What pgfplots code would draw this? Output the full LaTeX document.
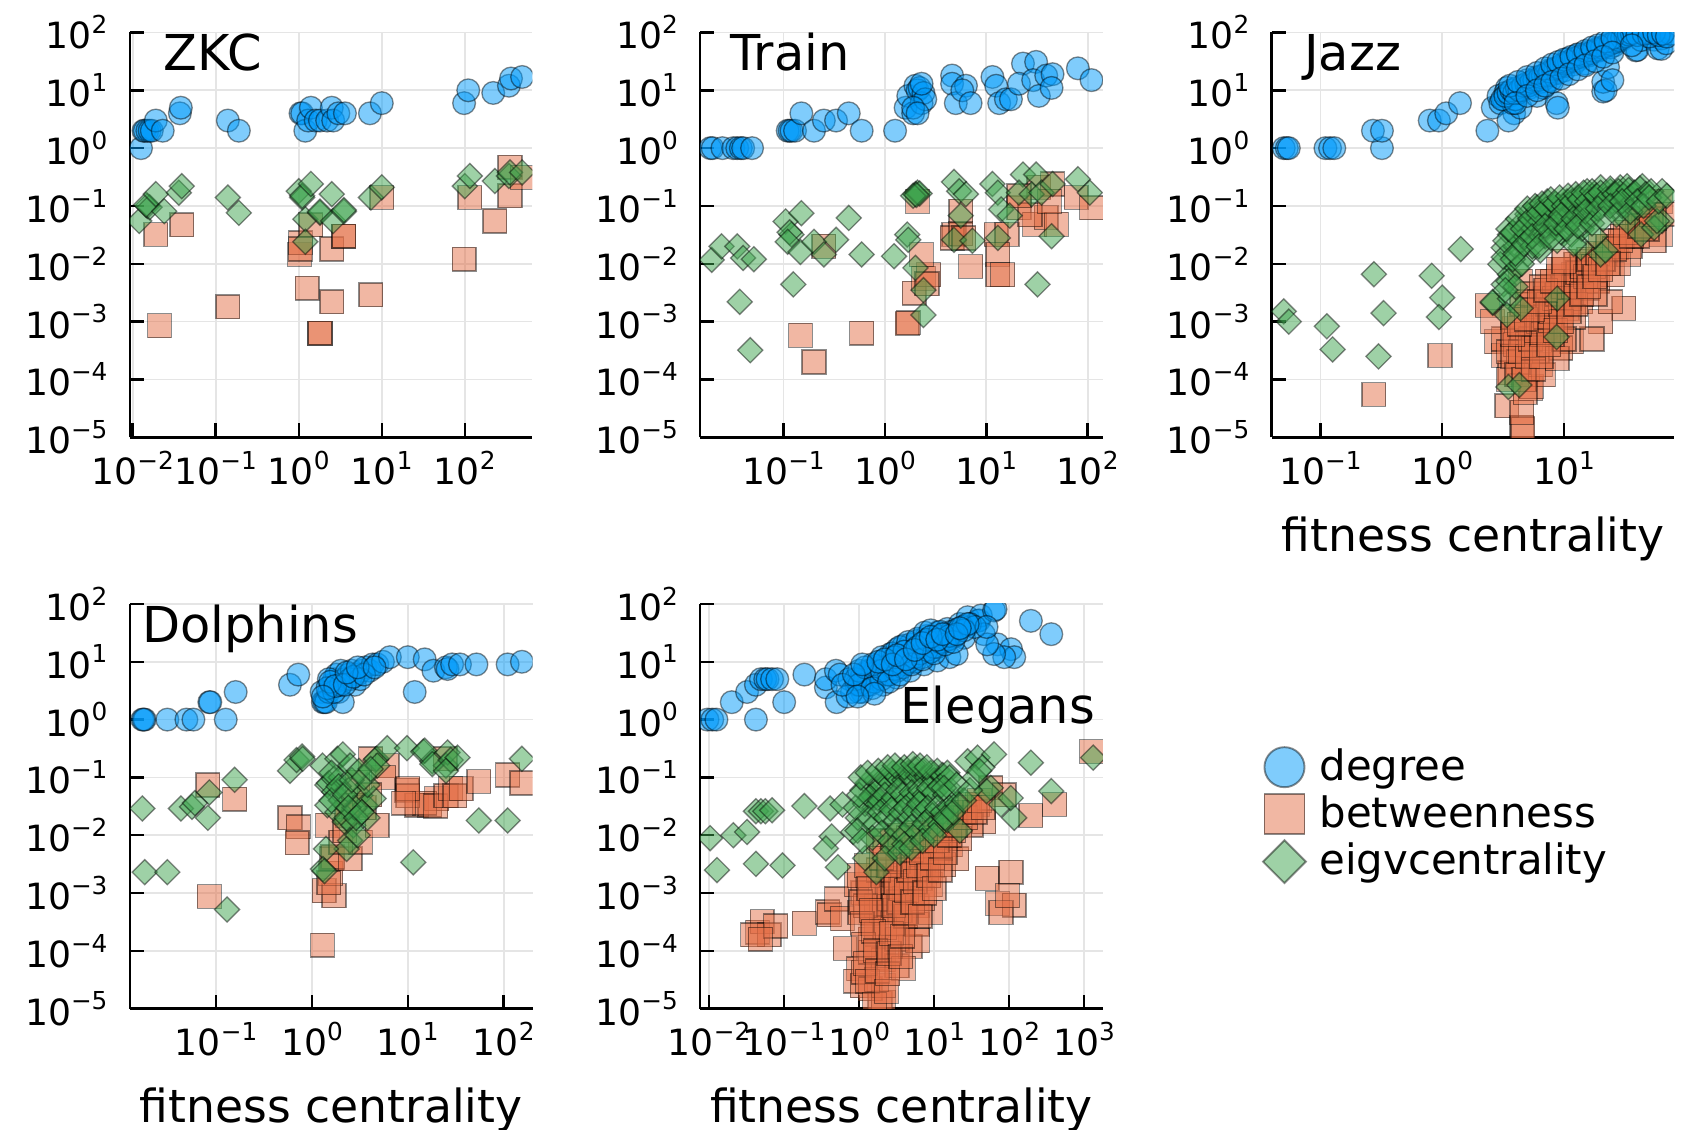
\documentclass[border=0pt]{standalone}
\usepackage{fontspec}
\setmainfont{DejaVu Sans}
\usepackage{pgfplots}
\pgfplotsset{compat=1.18}
\definecolor{c1}{HTML}{009AFA}
\definecolor{c2}{HTML}{E36F47}
\definecolor{c3}{HTML}{3EA44E}
\newcommand\supten[1]{10\raisebox{0.42em}{\fontsize{6.5pt}{6.5pt}\selectfont #1}}
\pgfplotsset{
    scale only axis, width=37.2mm, height=37.4mm,
    ymin=1e-5, ymax=100,
    ytick={1e-5,1e-4,1e-3,1e-2,1e-1,1,10,100},
    yticklabels={\supten{−5},\supten{−4},\supten{−3},\supten{−2},\supten{−1},\supten{0},\supten{1},\supten{2}},
    axis x line=bottom, axis y line=left,
    axis line style={-, line width=0.65pt, black},
    tick align=inside, major tick length=1.3mm,
    major tick style={line width=0.65pt, black},
    xminorticks=false, yminorticks=false,
    xmajorgrids=true, ymajorgrids=true,
    major grid style={line width=0.45pt, black!10},
    tick label style={font=\fontsize{9.5pt}{10pt}\selectfont, inner sep=0pt},
    yticklabel style={xshift=-2.0mm},
    xticklabel style={yshift=-1.2mm},
    xlabel style={font=\fontsize{12pt}{13pt}\selectfont, at={(axis description cs:0.5,0)}, anchor=center, yshift=-9.35mm},
    clip=true, clip marker paths=true,
}
\begin{document}
\begin{tikzpicture}
\path[use as bounding box] (0,0) rectangle (156.8mm,-104.4mm);

% ---------------- ZKC ----------------
\begin{loglogaxis}[at={(12.0mm,-3.0mm)}, anchor=north west,
  xmin=0.00925, xmax=653,
  xtick={0.01,0.1,1,10,100},
  xticklabels={\supten{−2},\supten{−1},\supten{0},\supten{1},\supten{2}}]
\addplot[only marks, mark=*, mark size=1.05mm, forget plot, mark options={fill=c1, fill opacity=0.5, draw=black, draw opacity=0.45, line width=0.35pt}] coordinates {(0.0126,1) (0.0135,2) (0.014,2) (0.015,2) (0.016,2) (0.017,2) (0.019,3) (0.023,2) (0.037,4) (0.038,5) (0.14,3) (0.19,2) (1.05,4) (1.1,4) (1.2,2) (1.3,3) (1.4,5) (1.6,3) (1.8,3) (2.2,3) (2.5,5) (2.6,3) (3.0,4) (3.6,4) (7.2,4) (10,6) (98,6) (110,10) (220,9) (340,12) (360,16) (490,17)};
\addplot[only marks, mark=square*, mark size=1.1mm, forget plot, mark options={fill=c2, fill opacity=0.5, draw=black, draw opacity=0.45, line width=0.35pt}] coordinates {(0.019,0.032) (0.039,0.047) (0.021,8.5e-4) (0.14,1.8e-3) (1.02,0.0145) (1.05,0.023) (1.05,0.018) (1.4,0.047) (1.26,3.8e-3) (2.5,2.2e-3) (1.8,6.3e-4) (1.8,6.3e-4) (2.5,0.018) (3.5,0.030) (3.5,0.030) (7.4,2.9e-3) (10,0.14) (98,0.012) (115,0.14) (230,0.055) (350,0.15) (350,0.47) (490,0.31)};
\addplot[only marks, mark=square*, mark size=0.82mm, forget plot, mark options={rotate=45, fill=c3, fill opacity=0.5, draw=black, draw opacity=0.45, line width=0.35pt}] coordinates {(0.012,0.055) (0.015,0.1) (0.016,0.095) (0.0145,0.105) (0.019,0.16) (0.024,0.081) (0.036,0.17) (0.039,0.22) (0.14,0.14) (0.19,0.076) (1.0,0.18) (1.1,0.14) (1.1,0.15) (1.4,0.24) (1.2,0.059) (1.8,0.076) (1.8,0.08) (2.5,0.16) (2.6,0.055) (3.5,0.08) (3.5,0.085) (1.2,0.024) (7.4,0.14) (10,0.21) (100,0.22) (115,0.33) (230,0.27) (340,0.33) (350,0.38) (490,0.38)};
\node[anchor=base west, inner sep=0pt, font=\fontsize{13pt}{14pt}\selectfont] at (rel axis cs:0.082,0.905) {ZKC};
\end{loglogaxis}

% ---------------- Train ----------------
\begin{loglogaxis}[at={(64.7mm,-3.0mm)}, anchor=north west,
  xmin=0.0151, xmax=141,
  xtick={0.1,1,10,100},
  xticklabels={\supten{−1},\supten{0},\supten{1},\supten{2}}]
\addplot[only marks, mark=*, mark size=1.05mm, forget plot, mark options={fill=c1, fill opacity=0.5, draw=black, draw opacity=0.45, line width=0.35pt}] coordinates {(0.019,1) (0.02,1) (0.025,1) (0.032,1) (0.035,1) (0.038,1) (0.04,1) (0.049,1) (0.11,2) (0.115,2) (0.12,2) (0.13,2) (0.15,4) (0.2,2) (0.25,3) (0.33,3) (0.44,4) (0.59,2) (1.26,2) (1.6,5) (1.7,8) (1.9,4) (2.0,12) (2.1,10) (2.2,11) (2.3,6) (2.4,9) (2.5,7) (2.3,13) (1.9,5) (2.1,4) (4.6,18) (4.6,13) (5.0,6) (6.3,12) (5.8,10) (7.0,6) (11.5,17) (12.5,12) (13.4,6) (15.6,7) (17.5,7) (23,29) (31,31) (21,13) (29,15) (33,8) (39,18) (45,19) (44,11) (80,24) (109,15)};
\addplot[only marks, mark=square*, mark size=1.1mm, forget plot, mark options={fill=c2, fill opacity=0.5, draw=black, draw opacity=0.45, line width=0.35pt}] coordinates {(0.147,5.8e-4) (0.2,2.0e-4) (0.25,0.02) (0.59,6.3e-4) (1.66,9.3e-4) (1.7,9.5e-4) (1.94,3.1e-3) (2.4,5.6e-3) (2.7,6.5e-3) (2.6,4.5e-3) (2.3,0.0145) (2.1,0.12) (5.6,0.081) (4.8,0.032) (4.6,0.028) (5.6,0.033) (7.0,9e-3) (6,0.028) (12.5,0.032) (16,0.032) (13,0.0145) (13,6.5e-3) (14.5,6.5e-3) (21,0.093) (30,0.048) (33,0.21) (39,0.063) (45,0.24) (27,0.07) (49,0.048) (77,0.14) (109,0.093) (42,0.12) (21,0.15)};
\addplot[only marks, mark=square*, mark size=0.82mm, forget plot, mark options={rotate=45, fill=c3, fill opacity=0.5, draw=black, draw opacity=0.45, line width=0.35pt}] coordinates {(0.0196,0.0117) (0.0245,0.02) (0.035,0.02) (0.040,0.0126) (0.051,0.012) (0.037,2.2e-3) (0.047,3.2e-4) (0.105,0.054) (0.15,0.075) (0.12,0.032) (0.115,0.035) (0.11,0.024) (0.147,0.016) (0.2,0.024) (0.25,0.0145) (0.33,0.026) (0.44,0.062) (0.59,0.0145) (0.125,4.4e-3) (1.23,0.0135) (1.66,0.032) (1.7,0.026) (2.0,0.16) (2.1,0.17) (2.2,0.165) (1.9,0.15) (2.05,0.155) (2.0,8.5e-3) (2.4,3.5e-3) (2.4,1.3e-3) (4.8,0.26) (5.4,0.18) (6.3,0.16) (5.6,0.068) (4.8,0.026) (7.3,0.025) (11.5,0.24) (13,0.17) (14,0.087) (17,0.068) (13,0.028) (32,4.4e-3) (23,0.35) (31,0.35) (21,0.17) (28,0.16) (35,0.17) (45,0.24) (44,0.03) (80,0.29) (105,0.17)};
\node[anchor=base west, inner sep=0pt, font=\fontsize{13pt}{14pt}\selectfont] at (rel axis cs:0.074,0.905) {Train};
\end{loglogaxis}

% ---------------- Jazz ----------------
\begin{loglogaxis}[at={(117.5mm,-3.0mm)}, anchor=north west,
  xmin=0.0398, xmax=80.5,
  xtick={0.1,1,10},
  xticklabels={\supten{−1},\supten{0},\supten{1}},
  xlabel={fitness centrality}]
\addplot[only marks, mark=*, mark size=1.05mm, forget plot, mark options={fill=c1, fill opacity=0.5, draw=black, draw opacity=0.45, line width=0.35pt}] coordinates {(0.05,1) (0.053,1) (0.055,1) (0.11,1) (0.12,1) (0.13,1) (0.32,1) (0.27,2) (0.32,2) (0.79,3) (0.94,3) (1.08,4) (1.4,6) (2.35,2) (2.6,5) (2.9,8) (3.4,11) (3.2,7) (3.0,6) (3.3,9) (3.6,8) (3.9,4) (3.5,3) (4.4,5) (3.8,6) (4.0,7) (4.2,9) (4.5,10) (4.8,12) (5,15) (5.2,11) (5.5,13) (6,17) (6,8) (6.5,14) (6.8,11) (7,16) (7.5,22) (7.8,15) (8,19) (8.7,6) (8.9,5) (9,20) (10,22) (10.7,35) (10,26) (11,30) (12,28) (13,41) (13,33) (14,37) (15,44) (15,29) (16,40) (17,45) (18.7,53) (19,48) (20,50) (21,9.5) (21,14) (22,10) (23,65) (23,25) (24,55) (25,15) (26,60) (28,79) (28,70) (30,75) (31,91) (33,100) (35,93) (39,49) (40,50) (43,74) (55,75) (59,53) (63,79) (63,52) (69,65) (75,95) (50,98) (45,110) (3.1,7) (3.3,8) (3.5,9) (3.7,10) (3.9,9) (4.1,11) (4.3,10) (4.6,12) (4.9,13) (5.1,12) (5.4,14) (5.7,15) (6.1,15) (6.4,17) (6.7,18) (7.1,19) (7.4,18) (7.7,21) (8.1,23) (8.5,24) (9,25) (9.5,27) (10,29) (10.5,30) (11,31) (11.5,33) (12,35) (12.5,36) (13.5,38) (14.5,40) (15.5,42) (16.5,44) (17.5,48) (19,51) (20.5,55) (22,58) (24,63) (26,68) (28,74) (30,80) (32,86) (34,92) (36,97) (3.6,12) (4.2,14) (5,17) (6,20) (7,24) (8,28) (9,31) (10,34) (11.5,38) (13,42) (15,48) (17,55) (19,60) (22,70) (25,80) (4,6) (5,8) (6,10) (7,12) (8,14) (9.5,16) (11,19) (13,23) (15,27) (18,32) (21,38) (25,45) (40,90) (45,95) (50,85) (55,100) (60,90) (65,95) (70,85) (36,60)};
\addplot[only marks, mark=square*, mark size=1.1mm, forget plot, mark options={fill=c2, fill opacity=0.5, draw=black, draw opacity=0.45, line width=0.35pt}] coordinates {(0.275,5.5e-5) (0.96,2.6e-4) (2.35,1.9e-3) (2.8,4.5e-4) (3.2,2.6e-4) (3.4,3.5e-5) (4.5,1.5e-5) (4.6,1.4e-5) (4.5,2.7e-5) (5.3,7e-5) (5.4,7.5e-5) (5,1.5e-4) (6.4,1.8e-4) (6.4,5.1e-4) (5.7,1.3e-3) (3.9,7.6e-4) (4.4,5e-3) (8.3,2.9e-3) (9.4,1e-3) (11.5,4.5e-4) (9.4,3.5e-4) (12,6.5e-3) (13.7,2.2e-3) (10.6,1.7e-3) (15.5,3.8e-3) (17,0.011) (22,0.0145) (27,0.019) (31,1.7e-3) (20,1e-3) (17,5e-4) (38,0.042) (45,0.042) (45,0.055) (62,0.032) (62,0.12) (70,0.072) (55,0.025) (12.5,9.8e-3) (7.3,5e-3) (6,3e-4) (7.8,1e-3) (6.8,1.2e-4) (3.6,1.3e-4) (3.2,5e-4) (5,2.2e-3) (8.8,2.3e-4) (19,5e-3) (25,6.5e-3) (34,0.0145) (24,2.2e-3) (2.6,1e-3) (3.5,3e-4) (4,4e-4) (4.5,6e-4) (5.5,8e-4) (6.5,1.5e-3) (7,2.5e-3) (8,4e-3) (9,6e-3) (10,8e-3) (11,3e-3) (14,5e-3) (16,8e-3) (18,3e-3) (20,0.02) (25,0.025) (30,0.03) (28,0.01) (35,0.02) (40,0.03) (4.2,2e-4) (5,4e-4) (6,6e-4) (7,8e-4) (8,1.5e-3) (9.5,2e-3) (12,1.2e-3) (3.8,1.2e-3) (4.5,2e-3) (5.5,3e-3) (6.5,4e-3) (10,5e-4) (8,6e-4) (55,0.06) (40,0.06) (3.5,1e-4) (3.8,2.5e-4) (4.1,1.2e-4) (4.4,3e-4) (4.7,1e-4) (5,2.5e-4) (5.3,5e-4) (5.6,3.5e-4) (5.9,7e-4) (6.2,1e-3) (6.6,6e-4) (7,1.2e-3) (7.4,2e-3) (7.8,1.5e-3) (8.3,2.5e-3) (8.8,3e-3) (9.3,2e-3) (9.8,4e-3) (10.5,5e-3) (11,2.5e-3) (12,4e-3) (13,7e-3) (14,9e-3) (15,6e-3) (16,0.012) (17.5,0.009) (19,0.015) (21,0.012) (23,0.02) (26,0.018) (29,0.025) (32,0.035) (36,0.03) (42,0.045) (48,0.04) (52,0.07) (4.8,6e-5) (5.6,1.5e-4) (6.5,2.5e-4) (7.5,4e-4) (8.5,7e-4) (9.5,1e-3) (11,1.5e-3) (12.5,2e-3) (14,3e-3) (16,4e-3) (18,6e-3) (20,8e-3) (23,0.01) (3.8,6e-4) (4.3,9e-4) (4.9,1.1e-3) (5.5,1.6e-3) (6.3,2.2e-3) (7.1,3.5e-3) (8,5e-3) (9,8e-3) (10,0.011)};
\addplot[only marks, mark=square*, mark size=0.82mm, forget plot, mark options={rotate=45, fill=c3, fill opacity=0.5, draw=black, draw opacity=0.45, line width=0.35pt}] coordinates {(0.05,1.5e-3) (0.055,1.0e-3) (0.113,8.3e-4) (0.126,3.3e-4) (0.275,6.6e-3) (0.33,1.4e-3) (0.30,2.5e-4) (0.82,6.2e-3) (1.0,2.6e-3) (0.94,1.2e-3) (1.42,0.018) (2.6,2.1e-3) (3.5,7.4e-5) (4.3,8e-5) (8.7,5.4e-4) (3.2,0.019) (3.0,9.8e-3) (3.2,4.4e-3) (2.6,2.2e-3) (3.6,2.5e-3) (4.4,1.7e-3) (3.4,1.3e-3) (3.6,0.032) (4.4,0.048) (5,0.072) (6,0.094) (7.3,0.12) (8.3,0.042) (10.6,0.12) (12.9,0.14) (15.5,0.18) (17,0.15) (20,0.21) (24,0.18) (29,0.21) (33,0.22) (44,0.22) (64,0.18) (64,0.055) (43,0.032) (55,0.042) (6.4,0.032) (5,0.0145) (6.4,0.017) (8.8,0.025) (11.5,0.032) (13.7,0.019) (20,0.0145) (22,0.017) (8.8,2.5e-3) (10,0.063) (7.3,0.055) (15.5,0.055) (20,0.094) (26,0.094) (13,0.072) (6,0.048) (4.4,0.025) (33,0.055) (40,0.094) (58,0.055) (3.2,0.013) (3.6,6.5e-3) (4.1,8.5e-3) (4,0.02) (4.8,0.03) (5.5,0.04) (7,0.07) (8,0.09) (9,0.1) (11,0.08) (12,0.1) (14,0.11) (16,0.1) (18,0.13) (9,0.06) (11,0.05) (14,0.04) (16,0.07) (18,0.03) (25,0.12) (27,0.15) (30,0.1) (35,0.14) (5,0.05) (6,0.06) (7,0.03) (3.8,0.012) (4.5,0.01) (5.5,0.02) (9.5,0.035) (12,0.022) (3.3,0.025) (3.5,0.04) (3.8,0.035) (4.2,0.06) (4.6,0.04) (5,0.09) (5.3,0.06) (5.8,0.1) (6.2,0.075) (6.6,0.11) (7.2,0.09) (7.8,0.13) (8.5,0.11) (9.2,0.14) (10,0.1) (10.8,0.15) (11.7,0.12) (12.5,0.16) (13.5,0.13) (14.5,0.17) (15.5,0.12) (17,0.18) (18.5,0.15) (20,0.17) (22,0.13) (24,0.2) (26,0.16) (28,0.18) (31,0.15) (34,0.19) (38,0.17) (42,0.2) (47,0.16) (52,0.18) (4,0.015) (4.7,0.022) (5.5,0.03) (6.2,0.02) (7,0.045) (7.8,0.028) (8.6,0.05) (9.5,0.07) (10.5,0.04) (12,0.06) (13,0.045) (15,0.08) (17,0.05) (19,0.09) (21,0.06) (24,0.1) (27,0.07) (30,0.12) (35,0.08) (40,0.12) (45,0.1) (50,0.14) (60,0.12) (70,0.15) (3.5,0.005) (4,0.004) (3.3,0.0035)};
\node[anchor=base west, inner sep=0pt, font=\fontsize{13pt}{14pt}\selectfont] at (rel axis cs:0.079,0.905) {Jazz};
\end{loglogaxis}

% ---------------- Dolphins ----------------
\begin{loglogaxis}[at={(12.0mm,-55.8mm)}, anchor=north west,
  xmin=0.0126, xmax=200,
  xtick={0.1,1,10,100},
  xticklabels={\supten{−1},\supten{0},\supten{1},\supten{2}},
  xlabel={fitness centrality}]
\addplot[only marks, mark=*, mark size=1.05mm, forget plot, mark options={fill=c1, fill opacity=0.5, draw=black, draw opacity=0.45, line width=0.35pt}] coordinates {(0.017,1) (0.018,1) (0.0175,1) (0.031,1) (0.049,1) (0.058,1) (0.085,2) (0.087,2) (0.126,1) (0.16,3) (0.59,4) (0.72,6) (1.26,3) (1.3,2) (1.35,2) (1.4,2) (1.5,3) (1.6,4) (1.7,5) (1.8,6) (1.9,3) (2.0,7) (2.2,5) (2.4,6) (2.6,7) (2.8,4) (3.0,6) (3.3,7) (3.6,8) (4.0,7) (4.3,9) (4.8,9) (5.5,10) (2.1,2) (2.5,5) (3.2,5) (1.5,5) (1.7,3) (2.0,4) (6.5,12) (10,12) (15,11) (11.8,3) (18.5,7) (25,8) (26,7.5) (29,9) (35,9) (52,9) (110,9) (155,10) (1.45,3.5) (1.55,4.5) (1.75,3.8) (2.2,4) (2.7,5.5) (3.5,6) (1.3,2.5) (2.3,6.5) (3,8) (4.5,8)};
\addplot[only marks, mark=square*, mark size=1.1mm, forget plot, mark options={fill=c2, fill opacity=0.5, draw=black, draw opacity=0.45, line width=0.35pt}] coordinates {(0.082,0.074) (0.156,0.042) (0.085,8.7e-4) (0.59,0.02) (0.72,0.014) (0.70,7.4e-3) (1.29,1.26e-4) (1.34,1.1e-3) (1.7,9e-4) (1.57,2.2e-3) (1.6,3.9e-3) (1.65,4.2e-3) (2.5,3.9e-3) (1.45,0.0148) (3.2,7.6e-3) (4.8,0.0148) (2.3,0.025) (2.35,0.022) (3.0,0.083) (4.1,0.21) (6.1,0.16) (5.6,0.1) (9.8,0.06) (12.4,0.033) (17,0.033) (20,0.043) (2,7.6e-3) (2.7,0.033) (10,0.048) (15,0.036) (19.5,0.032) (25,0.048) (28,0.064) (31,0.048) (36,0.064) (55,0.085) (110,0.11) (155,0.08) (24.5,0.21) (10,0.064) (9,0.036) (1.5,1.5e-3) (2.2,0.012) (3.5,0.03) (4,0.05)};
\addplot[only marks, mark=square*, mark size=0.82mm, forget plot, mark options={rotate=45, fill=c3, fill opacity=0.5, draw=black, draw opacity=0.45, line width=0.35pt}] coordinates {(0.017,0.029) (0.018,2.3e-3) (0.031,2.3e-3) (0.043,0.029) (0.056,0.031) (0.06,0.036) (0.082,0.02) (0.085,0.055) (0.156,0.091) (0.13,5.2e-4) (0.59,0.13) (0.69,0.2) (0.79,0.23) (0.8,0.21) (1.29,0.16) (1.84,0.21) (2.1,0.25) (1.45,0.074) (1.5,0.08) (1.7,0.095) (2,0.1) (2.5,0.16) (1.7,0.056) (1.45,0.033) (1.84,0.025) (2.2,0.017) (2.3,0.02) (2.7,0.0148) (3.2,0.049) (3.6,0.033) (4.4,0.043) (3.8,0.074) (4.6,0.2) (4.7,0.21) (4.8,0.16) (2.5,8.1e-3) (2.3,5.8e-3) (1.4,5.8e-3) (1.3,2.6e-3) (1.35,2.4e-3) (6.1,0.32) (9.8,0.32) (14.5,0.28) (11.4,3.4e-3) (18,0.19) (25,0.16) (3,0.01) (3.8,0.02) (2.0,0.04) (2.4,0.06) (2.8,0.03) (1.6,0.12) (15,0.29) (18,0.17) (26,0.27) (28,0.2) (33,0.22) (25,0.13) (55,0.018) (110,0.018) (155,0.21) (1.6,0.04) (1.9,0.07) (2.2,0.05) (2.6,0.09) (3.1,0.13) (3.5,0.1) (4.1,0.14) (2.4,0.03) (2.9,0.02) (3.3,0.025)};
\node[anchor=base west, inner sep=0pt, font=\fontsize{13pt}{14pt}\selectfont] at (rel axis cs:0.029,0.905) {Dolphins};
\end{loglogaxis}

% ---------------- Elegans ----------------
\begin{loglogaxis}[at={(64.7mm,-55.8mm)}, anchor=north west,
  xmin=0.0076, xmax=1778,
  xtick={0.01,0.1,1,10,100,1000},
  xticklabels={\supten{−2},\supten{−1},\supten{0},\supten{1},\supten{2},\supten{3}},
  xlabel={fitness centrality},
  legend style={at={(1.396,0.48)}, anchor=west, draw=none, fill=none,
    font=\fontsize{11pt}{12pt}\selectfont, inner sep=0pt, row sep=0.4mm, column sep=0pt,
    nodes={inner sep=0.25mm},
    /tikz/every odd column/.append style={column sep=1.0mm}},
  legend cell align=left]
\addplot[only marks, mark=*, mark size=1.05mm, forget plot, mark options={fill=c1, fill opacity=0.5, draw=black, draw opacity=0.45, line width=0.35pt}] coordinates {(0.0095,1) (0.011,1) (0.0125,1) (0.02,2) (0.032,3) (0.042,4) (0.049,5) (0.056,5) (0.06,5) (0.069,5) (0.081,5) (0.042,1) (0.1,2) (0.186,6) (0.36,3.6) (0.36,5) (0.49,7) (0.5,2) (0.55,6) (0.74,5) (1.1,3) (1.1,5.6) (1.3,7) (1.6,5) (1.8,8) (0.92,4) (1.1,6) (1.4,7) (1.7,8.5) (2.1,10.5) (2.6,13.6) (3.2,16.5) (3.9,19) (4.8,20) (5.9,23) (8,28) (11,32) (15,37) (22,45) (28,59) (38,51) (40,52) (42,63) (63,77) (46,30) (70,20) (106,16.5) (117,12) (86,12) (63,13.6) (51,20) (195,51) (365,30) (25,26) (1,3) (1.4,4) (2.1,4) (3.2,5.3) (4.8,7) (7.3,9) (11,10.5) (16,12) (20,13.6) (9,15) (1.2,5) (1.5,6) (1.8,7) (2.2,8) (2.6,9) (3,10) (3.5,11) (4,12) (4.5,13) (5.2,14) (6,16) (7,18) (8,20) (9,22) (10,25) (12,27) (14,30) (17,33) (20,36) (24,40) (2.4,6) (3.2,7) (4.2,9) (5.5,10) (7,12) (9,15) (11,18) (13,22) (16,25) (19,28) (66,81) (30,45) (35,40) (50,40) (1.3,4) (1.6,4.5) (2,5) (2.5,6) (3,7.5) (3.8,8) (4.5,10) (5.5,12) (6.5,14) (8,16) (10,18) (12,22) (15,24) (0.8,3) (0.9,5) (1,7) (1.5,9) (2,12) (2.8,14) (3.5,18) (4.5,22) (6,25) (7.5,32) (9,35) (1,4) (1.2,8) (1.5,3.5) (2,7) (2.5,4.5) (3,12) (3.5,6) (4,15) (5,9) (6,18) (7,11) (8,24) (10,14) (12,33) (14,20) (16,28) (18,22) (25,35) (28,45) (0.7,2.5) (0.6,4) (0.85,6) (1.1,9) (1.8,10) (2.2,11) (2.8,9) (3.2,13) (4.2,11) (5.5,16) (7,21) (9,27) (11,24) (13,30) (20,30) (22,38) (1.6,2.8) (0.95,2.5)};
\addplot[only marks, mark=square*, mark size=1.1mm, forget plot, mark options={fill=c2, fill opacity=0.5, draw=black, draw opacity=0.45, line width=0.35pt}] coordinates {(0.044,2.1e-4) (0.051,3.2e-4) (0.063,1.9e-4) (0.038,1.9e-4) (0.077,2.7e-4) (0.048,1.6e-4) (0.186,3e-4) (0.38,4.7e-4) (0.4,4.2e-4) (0.5,7.9e-4) (0.6,3.6e-4) (0.65,1.1e-4) (0.98,4.9e-5) (0.9,3e-5) (1.1,2.5e-5) (1.12,1e-3) (1.5,4.5e-4) (1.4,1.6e-4) (1.7,7.5e-5) (1.9,1.25e-5) (0.92,1.4e-3) (1.02,4.6e-4) (1.13,4.3e-5) (1.4,2.2e-5) (2.1,1.3e-5) (2.1,7e-5) (1.7,2e-4) (2.6,4.6e-4) (3.2,1e-3) (3.9,2.9e-4) (4.8,1.4e-3) (5.9,6e-4) (7.3,3.3e-3) (8.9,1.4e-3) (11,5.2e-3) (13.5,0.015) (16.5,6.8e-3) (20,0.02) (28,0.034) (38,0.034) (46,0.017) (57,0.066) (86,0.05) (195,0.022) (405,0.034) (1260,0.28) (2.1,2.5e-5) (3.2,5.5e-5) (4.8,1.2e-4) (5.9,2.9e-4) (8.9,4.6e-4) (2.6,1.2e-4) (3.9,5e-5) (1.4,9.5e-5) (1.7,3.2e-5) (2.6,1.8e-3) (3.9,3e-3) (5.9,4e-3) (8.9,6.7e-3) (13.5,3.1e-3) (20,3.9e-3) (31,0.015) (16.5,0.02) (22,8.7e-3) (10,0.015) (5.9,0.011) (1.7,6e-4) (2.1,1e-3) (1.4,1e-3) (3.2,1.6e-4) (51,1.8e-3) (106,2.3e-3) (70,6.6e-4) (117,6.2e-4) (78,4.6e-4) (95,9e-4) (1.5,3e-4) (2,5e-4) (2.5,8e-4) (3,2e-3) (3.5,5e-4) (4,8e-4) (4.5,2e-3) (5,1e-3) (5.5,2.5e-3) (6.5,1.8e-3) (7,8e-4) (8,2.5e-3) (9.5,3e-3) (10,9e-3) (12,6e-3) (14,1e-2) (18,1.2e-2) (25,2.5e-2) (2.2,2.5e-4) (2.8,3e-4) (3.4,7e-4) (4.2,4e-4) (6,1.5e-4) (2.4,1.5e-3) (3.6,1.2e-3) (1.2,6e-4) (1.3,2e-3) (1.8,2.5e-3) (1.0,2e-3) (1.05,7e-4) (1.1,3e-4) (1.15,1.3e-4) (1.2,6e-5) (1.3,3e-5) (1.6,1.2e-5) (1.25,3e-3) (1.35,1.2e-3) (1.45,5e-4) (1.55,2.2e-4) (1.65,1e-4) (1.75,4.5e-5) (2.3,2e-5) (2.4,4e-5) (2.5,9e-5) (2.7,2e-4) (2.9,6e-4) (3.1,1.5e-3) (3.3,3.5e-3) (3.6,8e-5) (3.8,1.8e-4) (4.0,4.5e-4) (4.3,1.1e-3) (4.6,2.5e-3) (5.0,5.5e-3) (5.2,7e-4) (5.6,1.6e-3) (6.2,3e-3) (6.8,5e-3) (7.5,8e-3) (6.5,4e-4) (7.5,1e-3) (8.5,2e-3) (9.5,4e-3) (11,8e-3) (12,0.012) (10,1.2e-3) (12,2.5e-3) (14,5e-3) (16,0.01) (19,0.015) (22,0.025) (26,0.02) (30,0.03) (35,0.025) (40,0.04) (45,0.03) (1.8,8e-3) (2.2,6e-3) (2.8,8e-3) (3.5,0.01) (4.5,0.009) (2.0,4e-3) (2.5,3e-3)};
\addplot[only marks, mark=square*, mark size=0.82mm, forget plot, mark options={rotate=45, fill=c3, fill opacity=0.5, draw=black, draw opacity=0.45, line width=0.35pt}] coordinates {(0.0103,8.9e-3) (0.0127,2.5e-3) (0.021,0.01) (0.032,0.0114) (0.042,0.026) (0.049,0.026) (0.056,0.026) (0.069,0.027) (0.042,3.2e-3) (0.095,3e-3) (0.186,0.032) (0.41,0.029) (0.6,0.034) (0.43,9.5e-3) (0.36,5.9e-3) (0.52,2.8e-3) (0.83,0.0114) (1.2,4e-3) (1.7,2.3e-3) (0.96,0.02) (1.6,0.044) (1.1,0.06) (1.3,0.08) (1.5,0.05) (1.7,0.09) (2,0.07) (2.2,0.1) (2.5,0.085) (2.8,0.12) (3.2,0.1) (3.6,0.13) (4,0.09) (4.5,0.12) (5,0.1) (5.5,0.14) (6,0.11) (7,0.13) (8,0.1) (9,0.12) (10,0.09) (11,0.13) (13,0.11) (15,0.12) (1.2,0.035) (1.4,0.045) (1.6,0.03) (1.9,0.04) (2.2,0.05) (2.5,0.035) (2.9,0.045) (3.3,0.06) (3.8,0.05) (4.3,0.04) (5,0.055) (5.8,0.045) (6.5,0.06) (7.5,0.05) (8.5,0.065) (10,0.055) (12,0.07) (14,0.05) (17,0.06) (1.3,0.02) (1.6,0.015) (1.9,0.025) (2.3,0.02) (2.7,0.028) (3.1,0.018) (3.6,0.025) (4.2,0.03) (4.8,0.02) (5.5,0.027) (6.3,0.035) (7.2,0.025) (8.2,0.03) (9.5,0.022) (11,0.03) (13,0.025) (16,0.03) (20,0.035) (1.5,0.009) (2,0.011) (2.6,0.008) (3.2,0.012) (4,0.01) (5,0.014) (6,0.011) (7.5,0.016) (9,0.013) (12,0.015) (15,0.018) (2.8,0.006) (4,0.007) (28,0.19) (38,0.22) (63,0.25) (44,0.15) (195,0.18) (365,0.058) (1320,0.22) (78,0.034) (117,0.02) (105,0.044) (57,0.066) (22,0.012) (50,0.058) (16,0.1) (13.5,0.066) (20,0.075) (0.9,0.03) (1,0.05) (0.95,0.012) (1.1,0.008) (1.05,0.1) (1.3,0.12) (1.8,0.13) (2.4,0.15) (3,0.16) (4,0.15) (5.2,0.17) (6.5,0.16) (8,0.15) (2.2,0.004) (3.5,0.005) (5,0.006) (7,0.008) (10,0.01) (14,0.02) (18,0.025) (25,0.04) (30,0.06) (35,0.1) (40,0.13)};
\node[anchor=base east, inner sep=0pt, font=\fontsize{13pt}{14pt}\selectfont] at (rel axis cs:0.982,0.704) {Elegans};
\addlegendimage{only marks, mark=*, mark size=1.85mm, mark options={fill=c1, fill opacity=0.5, draw=black, draw opacity=0.45, line width=0.5pt}}
\addlegendentry{degree}
\addlegendimage{only marks, mark=square*, mark size=1.85mm, mark options={fill=c2, fill opacity=0.5, draw=black, draw opacity=0.45, line width=0.5pt}}
\addlegendentry{betweenness}
\addlegendimage{only marks, mark=square*, mark size=1.4mm, mark options={rotate=45, fill=c3, fill opacity=0.5, draw=black, draw opacity=0.45, line width=0.5pt}}
\addlegendentry{eigvcentrality}
\end{loglogaxis}
\end{tikzpicture}
\end{document}
